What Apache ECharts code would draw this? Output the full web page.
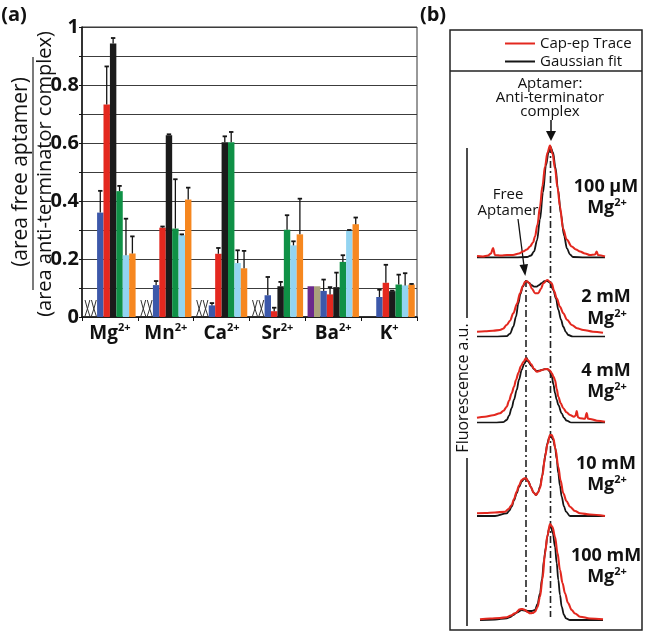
<!DOCTYPE html>
<html><head><meta charset="utf-8">
<script src="https://cdn.jsdelivr.net/npm/echarts@6/dist/echarts.min.js"></script>
<style>html,body{margin:0;padding:0;background:#fff}#c{width:645px;height:632px}</style>
</head><body><div id="c"></div>
<script>
// ---------- Panel (a) data ----------
const categories = ['Mg2+', 'Mn2+', 'Ca2+', 'Sr2+', 'Ba2+', 'K+'];
const yTicks = [0, 0.2, 0.4, 0.6, 0.8, 1];
const seriesNames = ['s1', 's2', 's3', 's4', 's5', 's6', 's7', 's8'];
const purpleVals = [null, null, null, null, 0.106, null];
const tanVals = [null, null, null, null, 0.106, null];
const blueVals = [0.36, 0.11, 0.04, 0.075, 0.09, 0.069];
const blueErr = [0.435, 0.124, 0.048, 0.138, 0.129, 0.094];
const redVals = [0.733, 0.308, 0.218, 0.02, 0.078, 0.118];
const redErr = [0.864, 0.312, 0.238, 0.032, 0.103, 0.18];
const blackVals = [0.943, 0.627, 0.603, 0.106, 0.103, 0.089];
const blackErr = [0.962, 0.63, 0.623, 0.121, 0.153, 0.091];
const greenVals = [0.434, 0.305, 0.603, 0.301, 0.19, 0.112];
const greenErr = [0.452, 0.475, 0.638, 0.351, 0.213, 0.146];
const lightBlueVals = [0.213, 0.282, 0.186, 0.247, 0.297, 0.109];
const lightBlueErr = [0.339, 0.285, 0.23, 0.261, 0.3, 0.151];
const orangeVals = [0.219, 0.405, 0.168, 0.285, 0.32, 0.112];
const orangeErr = [0.278, 0.446, 0.228, 0.408, 0.343, 0.114];
// categories where the first two conditions were not determined (XX)
const notDetermined = [1, 1, 1, 1, 0, 0];

// ---------- Panel (b) data: electropherograms (migration units, fluorescence a.u.) ----------
const traceLabels = [['100 μM', 'Mg'], ['2 mM', 'Mg'], ['4 mM', 'Mg'], ['10 mM', 'Mg'], ['100 mM', 'Mg']];
const fit1 = [[2,0],[20,0],[40,0],[52,0.5],[56,2],[59,6],[62,17],[65,38],[68,65],[71,92],[73.5,105],[75.7,110],[78,105],[80.5,90],[83,68],[86,43],[89,22],[92,9],[95,3],[98,0.5],[110,0],[130,0]];
const trace1 = [[2,1.5],[8,1],[13,2],[16,4],[18,9.5],[20,2.5],[26,2],[32,2.5],[38,2.5],[44,4],[48,6],[52,8],[55,11],[58,15],[60,21],[62.5,33],[65,51],[67.5,72],[70,91],[72.5,105],[75,112],[77.5,104],[80,89],[82.5,70],[85,51],[88,29],[91.7,18],[96.7,11],[101,8],[105,6],[110,4],[115,2.5],[120,3],[121.7,6],[123,2.5],[130,1]];
const fit2 = [[2,0],[20,0],[31.7,0.5],[35,3],[38.3,10],[41,20],[43.3,33],[45.5,43],[47.7,50],[51,55.5],[54,54],[56.7,51.5],[59,50],[61.7,50],[64,51.5],[66.7,53.5],[69.5,55.5],[72.3,55.7],[75,54],[78.3,46.7],[81,38],[83.3,27],[86,17],[88.3,10],[91,4.5],[93.3,1.7],[98,0],[130,0]];
const trace2 = [[2,5],[10,5.5],[18,6],[25,6.7],[28,8],[31.7,11.7],[35,16],[38.3,23.4],[42,33],[45,43.4],[48,51],[50,55],[52,55.5],[54.3,53.4],[57,48],[60,43.5],[63.3,43.5],[66,48],[68.3,53.4],[72.3,56.7],[76.7,53.4],[79,46],[81.7,38.4],[85,30],[88.3,23.4],[92,17],[96.7,11.7],[102,8.5],[108.3,6.7],[118,5],[128,4]];
const fit3 = [[2,0],[20,0],[28,0.5],[31.7,2.7],[34,7],[36.7,14.7],[39,23],[41.7,32.7],[44,43],[46.7,52.7],[49,58.5],[51,61.7],[52,64.5],[53,61],[56.7,56.7],[59,53.5],[61.7,51.7],[64,52],[66.7,52.7],[69.5,53.5],[72.3,53.7],[74.5,51.5],[76.7,46.7],[78.5,38],[80,29.7],[81.7,23],[83.3,17.7],[86.7,9.4],[89,5],[91.7,2],[96.7,0],[130,0]];
const trace3 = [[2,5],[10,6],[18,7.5],[25,9.4],[28.5,12],[31.7,16],[34,22],[36.7,29.4],[39,36],[41,42.7],[43.5,50],[46,56.7],[48.5,61],[51,64.4],[53.5,62],[56,58.7],[59,54],[61.7,51],[64,51.5],[67,52.7],[70,53.5],[72.3,53.7],[74.5,52.5],[76.7,49.7],[78.5,46],[80,42.7],[81.7,34],[83.3,26],[85.7,19.5],[88.3,14.4],[91.5,10.5],[95,7.7],[99,6],[100.5,7],[101.7,11.7],[103,5.5],[105,4.4],[110,4],[111.7,9.7],[113,4],[115,3.7],[122,2],[130,1]];
const fit4 = [[2,0],[20,0],[31.7,2.7],[34,5],[36.7,9.3],[39,15.5],[41.7,22.7],[44,29],[46.7,34.3],[49,37],[51,37.7],[53.5,34.5],[55.7,29.3],[58.5,23.5],[61,21],[63,23.5],[65,29.3],[67,39],[69,52.7],[70.7,63],[72.3,72.7],[74,78],[75.7,80],[78,76.5],[80,69.3],[81.7,57],[83.3,42.7],[85,30],[86.7,19.3],[89,9.5],[91,4.3],[95,0],[130,0]];
const trace4 = [[2,2.7],[10,3],[20,3.5],[30,4.3],[33.5,7],[36.7,11],[39,17],[41.7,24.3],[44,30.5],[46.7,36],[49,37.5],[51,37.7],[53.5,34],[55.7,29.3],[58.5,23.5],[61,21],[63,23.5],[65,28],[67.5,41],[70,59.3],[72.5,72],[75,81],[76.7,81],[78.3,77.7],[80.5,67],[83.3,49.3],[85.5,36],[88.3,22.7],[91.5,15],[95,9.3],[100,5],[105,2.7],[115,1.5],[130,0]];
const fit5 = [[5,0],[20,0.5],[31.7,1.7],[35,3],[38.3,5],[42,7.5],[46.7,10],[50,9.5],[53.3,9],[56.5,9],[60,10],[62.5,16],[65,26.7],[67,41],[69,60],[70.7,72],[72.3,83.3],[74,91],[75.7,94],[77.8,87],[80,73.3],[81.7,57],[83.3,40],[85,25],[86.7,13.3],[89,5],[91,1.7],[95,0],[128,0]];
const trace5 = [[5,0.7],[15,1.5],[25,2],[31.7,2.7],[36,4.5],[40,6.7],[45,10.7],[47.5,11],[50,10],[52.5,8],[55,6.7],[57.5,7],[60,8.3],[62.5,13],[65,23.3],[67.5,41],[70,66.7],[72.5,85],[75,96],[77.5,93],[80,83.3],[82.5,67],[85,50],[87.5,37],[90,26.7],[93,17],[96.7,10],[100,6.5],[105,3.3],[115,1.5],[128,0.7]];
const fits = [fit1, fit2, fit3, fit4, fit5];
const traces = [trace1, trace2, trace3, trace4, trace5];
// peak migration positions (free aptamer, aptamer:anti-terminator complex)
const peakPositions = [51, 75.5];

// ---------- Styling ----------
const barColors = ['#6b2a8c', '#aaa27c', '#3c58aa', '#e4281f', '#1b1b1b', '#0f9146', '#93d4f1', '#f6871f'];
const barVals = [purpleVals, tanVals, blueVals, redVals, blackVals, greenVals, lightBlueVals, orangeVals];
const errVals = [null, null, blueErr, redErr, blackErr, greenErr, lightBlueErr, orangeErr];
const FONT = "'Open Sans', 'Liberation Sans', sans-serif";
const NB = 8, CAT_GAP = 0.08;

const chart = echarts.init(document.getElementById('c'), null, {renderer: 'canvas'});

const grids = [{left: 82, top: 27, width: 335, height: 290, show: true, borderColor: '#333', borderWidth: 1, backgroundColor: 'transparent'}];
const xAxes = [{
  type: 'category', gridIndex: 0, data: categories,
  axisLine: {lineStyle: {color: '#111', width: 1.5}},
  axisTick: {show: true, length: 4, lineStyle: {color: '#111'}},
  axisLabel: {
    margin: 5, interval: 0, hideOverlap: false,
    formatter: v => { const m = v.match(/^([A-Za-z]+)(.*)$/); return '{n|' + m[1] + '}{s|' + m[2] + '}'; },
    rich: {
      n: {fontFamily: FONT, fontSize: 19, fontWeight: 'bold', color: '#111', lineHeight: 24},
      s: {fontFamily: FONT, fontSize: 11, fontWeight: 'bold', color: '#111', verticalAlign: 'top', lineHeight: 14}
    }
  }
}];
const yAxes = [{
  type: 'value', gridIndex: 0, min: 0, max: 1, interval: 0.1,
  axisLine: {show: true, lineStyle: {color: '#111', width: 1.5}},
  axisTick: {show: true, length: 3, lineStyle: {color: '#111'}},
  splitLine: {show: true, lineStyle: {color: '#3c3c3c', width: 1}},
  axisLabel: {
    margin: 3, fontFamily: FONT, fontSize: 20, fontWeight: 'bold', color: '#111',
    formatter: v => {
      const t = yTicks.find(k => Math.abs(k - v) < 1e-6);
      if (t === undefined) return '';
      return (t === 0 || t === 1) ? String(t) : t.toFixed(1);
    }
  }
}];

const series = [];
barVals.forEach((vals, i) => {
  series.push({
    type: 'bar', name: seriesNames[i], xAxisIndex: 0, yAxisIndex: 0, data: vals,
    barGap: '0%', barCategoryGap: (CAT_GAP * 100) + '%',
    itemStyle: {color: barColors[i]}, silent: true
  });
});
// error bars
const errData = [];
errVals.forEach((errs, i) => {
  if (!errs) return;
  errs.forEach((e, c) => { if (barVals[i][c] != null) errData.push([c, i, barVals[i][c], e]); });
});
series.push({
  type: 'custom', xAxisIndex: 0, yAxisIndex: 0, data: errData, encode: {x: 0, y: 3}, silent: true, z: 5,
  renderItem: (params, api) => {
    const c = api.value(0), slot = api.value(1);
    const catW = api.size([1, 0])[0];
    const bw = catW * (1 - CAT_GAP) / NB;
    const x = api.coord([c, 0])[0] + (slot - (NB - 1) / 2) * bw;
    const yTop = api.coord([c, api.value(2)])[1];
    const yErr = api.coord([c, api.value(3)])[1];
    return {type: 'group', children: [
      {type: 'line', shape: {x1: x, y1: yTop, x2: x, y2: yErr}, style: {stroke: '#151515', lineWidth: 1.3}},
      {type: 'line', shape: {x1: x - 2.2, y1: yErr, x2: x + 2.2, y2: yErr}, style: {stroke: '#151515', lineWidth: 1.8}}
    ]};
  }
});
// XX marks (not determined)
const ndData = [];
notDetermined.forEach((f, c) => { if (f) { ndData.push([c, 0]); ndData.push([c, 1]); } });
series.push({
  type: 'custom', xAxisIndex: 0, yAxisIndex: 0, data: ndData, encode: {x: 0, y: 1}, silent: true, z: 5,
  renderItem: (params, api) => {
    const c = api.value(0), slot = api.value(1);
    const catW = api.size([1, 0])[0];
    const bw = catW * (1 - CAT_GAP) / NB;
    const p0 = api.coord([c, 0]);
    const x = p0[0] + (slot - (NB - 1) / 2) * bw, y0 = p0[1] - 1, h = 16, w = 2.4;
    return {type: 'group', children: [
      {type: 'bezierCurve', shape: {x1: x - w, y1: y0, x2: x + w, y2: y0 - h, cpx1: x + 0.5, cpy1: y0 - h * 0.5}, style: {stroke: '#333', lineWidth: 1, fill: null}},
      {type: 'bezierCurve', shape: {x1: x + w, y1: y0, x2: x - w, y2: y0 - h, cpx1: x - 0.5, cpy1: y0 - h * 0.5}, style: {stroke: '#333', lineWidth: 1, fill: null}}
    ]};
  }
});

// ---------- Panel (b) grids ----------
const B_LEFT = 475, B_W = 130, B_H = 120;
const baselines = [257.5, 336.7, 422.7, 516, 620];
baselines.forEach((b, k) => {
  grids.push({left: B_LEFT, width: B_W, top: b - B_H, height: B_H, show: false});
  xAxes.push({type: 'value', gridIndex: k + 1, min: 0, max: 130, show: false});
  yAxes.push({type: 'value', gridIndex: k + 1, min: 0, max: 120, show: false});
  series.push({type: 'line', name: 'Gaussian fit', xAxisIndex: k + 1, yAxisIndex: k + 1, data: fits[k],
    showSymbol: false, symbol: 'none', smooth: 0.35, smoothMonotone: 'x', silent: true,
    itemStyle: {color: '#151515'}, lineStyle: {color: '#151515', width: 1.8}, z: 3});
  series.push({type: 'line', name: 'Cap-ep Trace', xAxisIndex: k + 1, yAxisIndex: k + 1, data: traces[k],
    showSymbol: false, symbol: 'none', smooth: 0.35, smoothMonotone: 'x', silent: true,
    itemStyle: {color: '#e3281f'}, lineStyle: {color: '#e3281f', width: 2.1}, z: 4});
});
// overlay grid for peak-position guide lines (y in page units)
grids.push({left: B_LEFT, width: B_W, top: 0, height: 632, show: false});
xAxes.push({type: 'value', gridIndex: 6, min: 0, max: 130, show: false});
yAxes.push({type: 'value', gridIndex: 6, min: 0, max: 632, inverse: true, show: false});
const guideSpans = [[280, 612], [146, 617]];
peakPositions.forEach((p, i) => {
  series.push({type: 'line', xAxisIndex: 6, yAxisIndex: 6, data: [[p, guideSpans[i][0]], [p, guideSpans[i][1]]],
    showSymbol: false, symbol: 'none', silent: true, z: 2,
    lineStyle: {color: '#222', width: 1.6, type: [7, 3, 2, 3]}});
});

const T = (x, y, text, font, opts = {}) => Object.assign({type: 'text', x, y, silent: true,
  style: Object.assign({text, x: 0, y: 0, font, fill: '#111', textAlign: 'center', textVerticalAlign: 'middle'}, opts.style || {})}, opts.el || {});
const graphics = [
  T(14, 15, '(a)', `bold 20px ${FONT}`),
  T(433, 15, '(b)', `bold 20px ${FONT}`),
  T(21, 172, '(area free aptamer)', `21px ${FONT}`, {el: {rotation: Math.PI / 2}}),
  {type: 'line', silent: true, shape: {x1: 33, y1: 57, x2: 33, y2: 290}, style: {stroke: '#222', lineWidth: 1.2}},
  T(45, 174, '(area anti-terminator complex)', `20px ${FONT}`, {el: {rotation: Math.PI / 2}}),
  {type: 'rect', silent: true, shape: {x: 450, y: 30, width: 192, height: 600}, style: {stroke: '#222', lineWidth: 1.5, fill: null}},
  {type: 'line', silent: true, shape: {x1: 450, y1: 71, x2: 642, y2: 71}, style: {stroke: '#222', lineWidth: 1.3}},
  T(550, 84, 'Aptamer:', `500 15px ${FONT}`),
  T(550, 98, 'Anti-terminator', `500 15px ${FONT}`),
  T(550, 112, 'complex', `500 15px ${FONT}`),
  {type: 'line', silent: true, shape: {x1: 551, y1: 120, x2: 551, y2: 133}, style: {stroke: '#111', lineWidth: 1.5}},
  {type: 'polygon', silent: true, shape: {points: [[546, 131], [556, 131], [551, 141]]}, style: {fill: '#111'}},
  T(508, 195, 'Free', `500 15px ${FONT}`),
  T(508, 211, 'Aptamer', `500 15px ${FONT}`),
  {type: 'line', silent: true, shape: {x1: 518, y1: 219, x2: 524, y2: 266}, style: {stroke: '#111', lineWidth: 1.3}},
  {type: 'polygon', silent: true, shape: {points: [[519.5, 265], [528, 264], [525.3, 276]]}, style: {fill: '#111'}},
  T(463, 388, 'Fluorescence a.u.', `16px ${FONT}`, {el: {rotation: Math.PI / 2}}),
  {type: 'line', silent: true, shape: {x1: 467, y1: 148, x2: 467, y2: 318}, style: {stroke: '#111', lineWidth: 1.5}},
  {type: 'line', silent: true, shape: {x1: 467, y1: 458, x2: 467, y2: 626}, style: {stroke: '#111', lineWidth: 1.5}}
];
const labelY = [[187, 208], [297, 319], [371, 392], [464, 485], [556, 577]];
traceLabels.forEach((l, k) => {
  graphics.push(T(606, labelY[k][0], l[0], `bold 18px ${FONT}`));
  graphics.push({type: 'text', x: 607, y: labelY[k][1], silent: true, style: {
    text: '{n|' + l[1] + '}{s|2+}', x: 0, y: 0, textAlign: 'center', textVerticalAlign: 'middle',
    rich: {n: {font: `bold 18px ${FONT}`, fill: '#111', lineHeight: 22}, s: {font: `bold 11px ${FONT}`, fill: '#111', verticalAlign: 'top', lineHeight: 13}}
  }});
});

chart.setOption({
  animation: false,
  backgroundColor: '#fff',
  legend: {
    data: ['Cap-ep Trace', 'Gaussian fit'], orient: 'vertical', left: 500, top: 30,
    itemWidth: 30, itemHeight: 2, itemGap: 1, icon: 'rect', selectedMode: false,
    textStyle: {fontFamily: FONT, fontSize: 15, color: '#111', lineHeight: 17}
  },
  grid: grids, xAxis: xAxes, yAxis: yAxes, series, graphic: graphics
});
</script></body></html>
